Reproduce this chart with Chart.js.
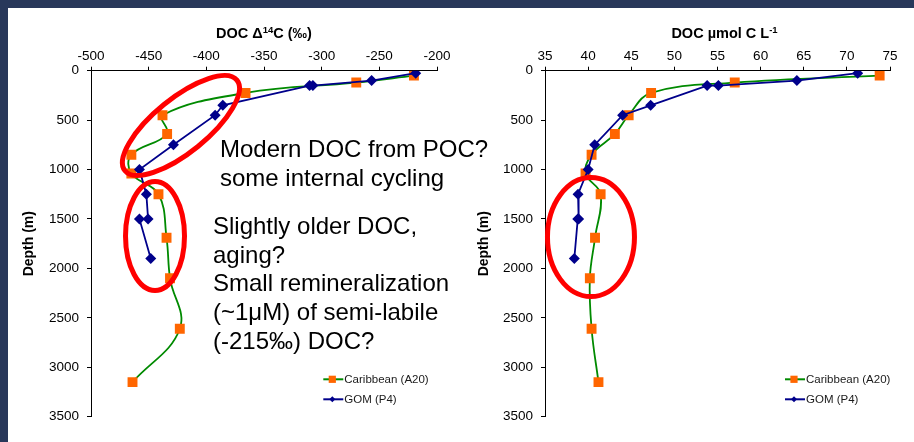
<!DOCTYPE html>
<html>
<head>
<meta charset="utf-8">
<script src="https://cdn.jsdelivr.net/npm/chart.js@4.4.1/dist/chart.umd.min.js"></script>
<style>
  html, body { margin: 0; padding: 0; }
  body { width: 914px; height: 442px; background: #28385a; position: relative; overflow: hidden; }
  #sheet { position: absolute; left: 8px; top: 8px; width: 906px; height: 434px; background: #ffffff; }
  canvas { position: absolute; top: 8px; }
  #cLeft { left: 8px; }
  #cRight { left: 457px; }
  .note { position: absolute; font-family: "Liberation Sans", Arial, sans-serif; font-size: 24px; line-height: 28.7px; color: #000; white-space: nowrap; }
</style>
</head>
<body>
<div id="sheet"></div>
<canvas id="cLeft" width="449" height="434"></canvas>
<canvas id="cRight" width="457" height="434"></canvas>
<div class="note" style="left:220px; top:135px;">Modern DOC from POC?<br>some internal cycling</div>
<div class="note" style="left:213px; top:212px;">Slightly older DOC,<br>aging?<br>Small remineralization<br>(~1μM) of semi-labile<br>(-215‰) DOC?</div>
<script>
// Station profiles: depth (m) with DOC radiocarbon (‰) and DOC concentration (µmol C/L)
const caribDepth = [50, 120, 225, 450, 640, 850, 1040, 1250, 1690, 2100, 2610, 3150];
const caribD14C  = [-220, -270, -366, -438, -434, -465, -465, -441.5, -434.5, -431.5, -423, -464];
const caribDOC   = [73.8, 57.0, 47.3, 44.7, 43.1, 40.4, 39.7, 41.45, 40.8, 40.2, 40.4, 41.2];

const gomDepth = [25, 100, 150, 150, 350, 450, 750, 1000, 1250, 1500, 1500, 1900];
const gomD14C  = [-218.5, -256.7, -307.6, -310.5, -385.7, -392.4, -428.5, -458, -452, -450.5, -458, -448.2];
const gomDOC   = [71.25, 64.2, 55.1, 53.8, 47.25, 44.0, 40.76, 40.0, 38.83, 38.9, 38.8, 38.4];

const seriesNames = ['Caribbean (A20)', 'GOM (P4)'];
const depthTicks  = [0, 500, 1000, 1500, 2000, 2500, 3000, 3500];

const FONT = '"Liberation Sans", Arial, sans-serif';
const ORANGE = '#ff6600', GREEN = '#008a00', NAVY = '#00008b';

function pts(xs, ys) { return xs.map((v, i) => ({ x: v, y: ys[i] })); }

// axis titles, legend and highlight ellipses
const decor = {
  id: 'decor',
  afterDatasetsDraw(chart, args, o) {
    const ctx = chart.ctx, a = chart.chartArea;
    const sx = chart.scales.x, sy = chart.scales.y;
    ctx.save();
    // highlight ellipses
    ctx.strokeStyle = '#ff0000';
    ctx.lineWidth = 5;
    (o.ellipses || []).forEach(e => {
      ctx.beginPath();
      ctx.ellipse(sx.getPixelForValue(e.x), sy.getPixelForValue(e.y), e.rx, e.ry, e.rot * Math.PI / 180, 0, Math.PI * 2);
      ctx.stroke();
    });
    // top title with superscript
    ctx.fillStyle = '#000';
    ctx.textBaseline = 'alphabetic';
    const big = 'bold 14.5px ' + FONT, small = 'bold 9.5px ' + FONT;
    const parts = o.title;
    let w = 0;
    parts.forEach(p => { ctx.font = p.sup ? small : big; w += ctx.measureText(p.t).width; });
    let x = (a.left + a.right) / 2 + (o.titleDx || 0) - w / 2;
    ctx.textAlign = 'left';
    parts.forEach(p => {
      ctx.font = p.sup ? small : big;
      ctx.fillText(p.t, x, p.sup ? 24.5 : 30.3);
      x += ctx.measureText(p.t).width;
    });
    // rotated depth title
    ctx.save();
    ctx.translate(o.depthX, (a.top + a.bottom) / 2);
    ctx.rotate(-Math.PI / 2);
    ctx.font = 'bold 14px ' + FONT;
    ctx.textAlign = 'center';
    ctx.textBaseline = 'middle';
    ctx.fillText('Depth (m)', 0, 0);
    ctx.restore();
    // legend
    const L = o.legend;
    ctx.font = '11.5px ' + FONT;
    ctx.textAlign = 'left';
    ctx.textBaseline = 'alphabetic';
    chart.data.datasets.slice().sort((p, q) => p.legendIndex - q.legendIndex).forEach((ds, i) => {
      const y = L.y[i];
      ctx.strokeStyle = ds.borderColor;
      ctx.lineWidth = 2;
      ctx.beginPath(); ctx.moveTo(L.x, y); ctx.lineTo(L.x + 20, y); ctx.stroke();
      ctx.fillStyle = ds.pointBackgroundColor;
      const cx = L.x + 9;
      if (ds.pointStyle === 'rect') {
        ctx.fillRect(cx - 3.6, y - 3.6, 7.2, 7.2);
      } else {
        ctx.beginPath();
        ctx.moveTo(cx - 3, y); ctx.lineTo(cx, y - 3); ctx.lineTo(cx + 3, y); ctx.lineTo(cx, y + 3);
        ctx.closePath(); ctx.fill();
      }
      ctx.fillStyle = '#1a1a1a';
      ctx.fillText(ds.label, L.x + 21, y + 4);
    });
    ctx.restore();
  }
};

function makeChart(id, cfg) {
  return new Chart(document.getElementById(id), {
    type: 'scatter',
    data: {
      datasets: [
        {
          label: seriesNames[0], legendIndex: 0, order: 1,
          data: pts(cfg.carib, caribDepth),
          showLine: true, tension: 0.4,
          borderColor: GREEN, borderWidth: 1.8,
          pointStyle: 'rect', pointRadius: 7, pointBorderWidth: 0,
          pointBackgroundColor: ORANGE, pointBorderColor: ORANGE
        },
        {
          label: seriesNames[1], legendIndex: 1, order: 0,
          data: pts(cfg.gom, gomDepth),
          showLine: true, tension: 0,
          borderColor: NAVY, borderWidth: 1.8,
          pointStyle: 'rectRot', pointRadius: 5.5, pointBorderWidth: 0,
          pointBackgroundColor: NAVY, pointBorderColor: NAVY
        }
      ]
    },
    options: {
      responsive: false,
      devicePixelRatio: 1,
      animation: false,
      events: [],
      layout: { padding: cfg.padding },
      font: { family: FONT },
      scales: {
        x: {
          type: 'linear', position: 'top',
          min: cfg.xMin, max: cfg.xMax,
          afterFit: s => { s.height = 40; },
          afterBuildTicks: s => { s.ticks = cfg.xTicks.map(v => ({ value: v })); },
          ticks: { color: '#000', font: { family: FONT, size: 13.5 }, padding: 2, maxRotation: 0, autoSkip: false, callback: v => String(v) },
          grid: { drawOnChartArea: false, drawTicks: true, tickLength: 4, color: '#000', lineWidth: 1 },
          border: { display: true, color: '#000', width: 1 }
        },
        y: {
          type: 'linear', position: 'left', reverse: true,
          min: 0, max: 3500,
          afterFit: s => { s.width = 60; },
          afterBuildTicks: s => { s.ticks = depthTicks.map(v => ({ value: v })); },
          ticks: { color: '#000', font: { family: FONT, size: 13.5 }, padding: 8, autoSkip: false, callback: v => String(v) },
          grid: { drawOnChartArea: false, drawTicks: true, tickLength: 4, color: '#000', lineWidth: 1 },
          border: { display: true, color: '#000', width: 1 }
        }
      },
      plugins: {
        legend: { display: false },
        tooltip: { enabled: false },
        decor: cfg.decor
      }
    },
    plugins: [decor]
  });
}

const d14cTicks = [-500, -450, -400, -350, -300, -250, -200];
const docTicks  = [35, 40, 45, 50, 55, 60, 65, 70, 75];

makeChart('cLeft', {
  carib: caribD14C, gom: gomD14C,
  xMin: -500, xMax: -200, xTicks: d14cTicks,
  padding: { left: 23, top: 22.7, right: 20, bottom: 25.3 },
  decor: {
    title: [{ t: 'DOC Δ' }, { t: '14', sup: true }, { t: 'C (‰)' }],
    titleDx: 0,
    depthX: 21.5,
    legend: { x: 315.3, y: [371.3, 391.3] },
    ellipses: [
      { x: -422, y: 554, rx: 72, ry: 27, rot: -39 },
      { x: -444.5, y: 1672, rx: 29.5, ry: 54.5, rot: 0 }
    ]
  }
});

makeChart('cRight', {
  carib: caribDOC, gom: gomDOC,
  xMin: 35, xMax: 75, xTicks: docTicks,
  padding: { left: 28, top: 22.7, right: 24, bottom: 25.3 },
  decor: {
    title: [{ t: 'DOC µmol C L' }, { t: '-1', sup: true }],
    titleDx: 7,
    depthX: 27.3,
    legend: { x: 328, y: [371.3, 391.3] },
    ellipses: [
      { x: 40.33, y: 1683, rx: 43.5, ry: 59.5, rot: 0 }
    ]
  }
});
</script>
</body>
</html>
